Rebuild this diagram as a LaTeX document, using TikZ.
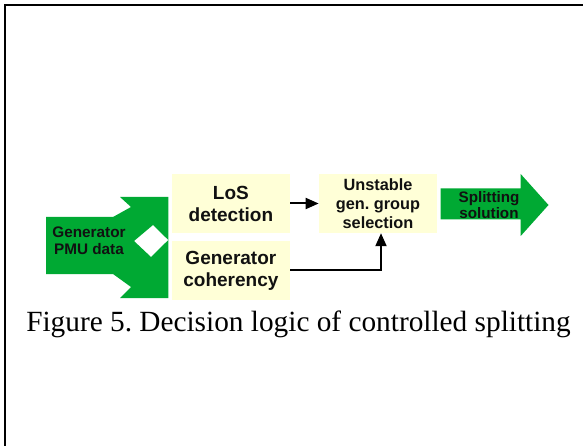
\documentclass[tikz,border=0pt]{standalone}
\usepackage{fontspec}
\setmainfont{Liberation Serif}
\newfontfamily\boxfont{Liberation Sans}
\usetikzlibrary{arrows.meta}
\definecolor{flowgreen}{HTML}{00A933}
\definecolor{boxyellow}{HTML}{FFFFD7}
\definecolor{txtdark}{HTML}{111111}
\frenchspacing
\tikzset{
  procbox/.style={fill=boxyellow, draw=none, inner sep=0pt, minimum width=118.3pt, minimum height=59pt,
    align=center, text=txtdark, font=\boxfont\bfseries\fontsize{19}{22}\selectfont},
  greenlabel/.style={inner sep=0pt, align=center, text=txtdark},
  conn/.style={line width=2pt, -{Triangle[length=13pt,width=11pt]}},
}
\begin{document}
\begin{tikzpicture}[x=1pt,y=-1pt]
\useasboundingbox (0,0) rectangle (583,446);
% frame
\draw[line width=2pt] (5,452) -- (5,5) -- (590,5);
% input split arrow
\fill[flowgreen] (46,217) -- (113,217) -- (131,207) -- (120,197) -- (168.3,197) -- (168.3,240)
  -- (153,225) -- (134,241) -- (151,257) -- (168.3,240) -- (168.3,298) -- (120,298)
  -- (131,287) -- (113,274) -- (46,274) -- cycle;
\node[greenlabel, font=\boxfont\bfseries\fontsize{15.3}{17}\selectfont] (pmu) at (89,241) {Generator\\PMU data};
% boxes
\node[procbox] (los) at (230.9,203.5) {LoS\\detection};
\node[procbox] (coh) at (230.9,270.9) {Generator\\coherency};
\node[procbox, font=\boxfont\bfseries\fontsize{16.3}{19}\selectfont] (uns) at (378,203.5) {Unstable\\gen. group\\selection};
% output arrow
\fill[flowgreen] (440.5,188.5) -- (520.7,188.5) -- (520.7,174) -- (548.5,205) -- (520.7,236)
  -- (520.7,219.5) -- (440.5,219.5) -- cycle;
\node[greenlabel, font=\boxfont\bfseries\fontsize{15.2}{16.5}\selectfont] (split) at (489,205) {Splitting\\solution};
% connectors
\draw[conn] (los.east) -- (uns.west);
\coordinate (unsin) at ([xshift=3pt]uns.south);
\draw[conn] (coh.east |- 0,270) -| (unsin);
% caption
\node[inner sep=0pt, anchor=base, font=\fontsize{29.3}{33}\selectfont] (cap) at (298.5,331) {Figure 5. Decision logic of controlled splitting};
\end{tikzpicture}
\end{document}
